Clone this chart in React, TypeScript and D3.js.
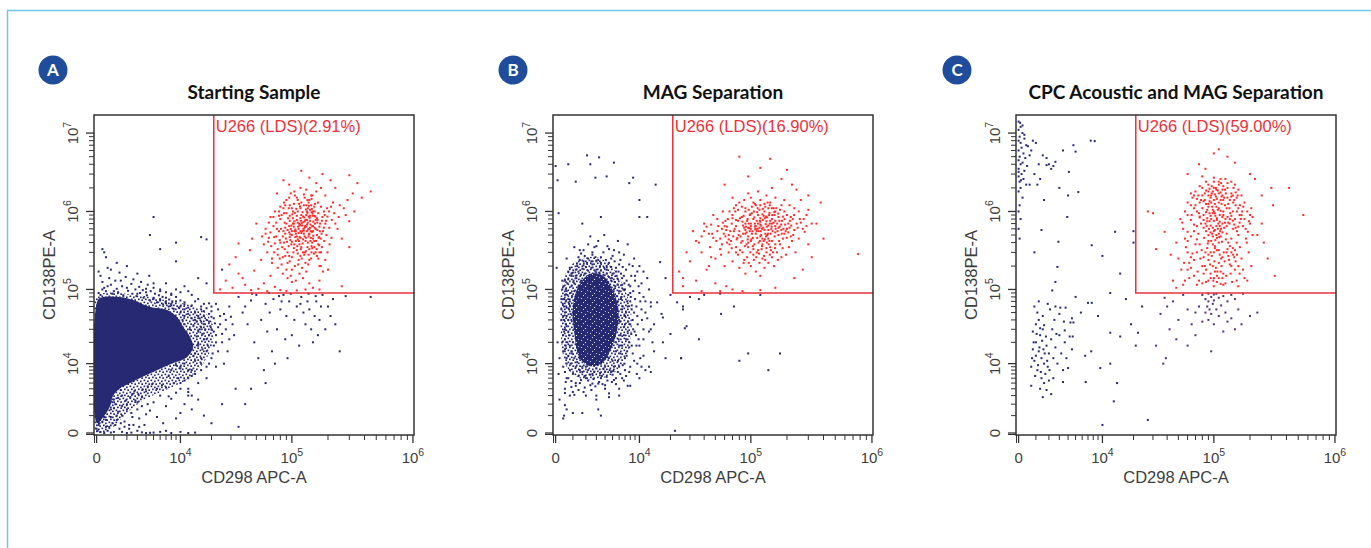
import * as d3 from "d3"

// flow cytometry: CD298 APC-A (x) vs CD138 PE-A (y); event values in thousands
const panelLetters = ["A", "B", "C"]
const panelTitles = ["Starting Sample", "MAG Separation", "CPC Acoustic and MAG Separation"]
const gatePercents = ["2.91%", "16.90%", "59.00%"]
const gateName = "U266 (LDS)"
const gateX = 21000
const gateY = 90000
const xMajorTicks = [0, 1e4, 1e5, 1e6]
const yMajorTicks = [0, 1e4, 1e5, 1e6, 1e7]
const xTitle = "CD298 APC-A"
const yTitle = "CD138PE-A"

// dense core of the population (outline of the saturated area)
const blobA = [[0.065,72.9],[0.33,79.7],[1.44,79.7],[2.56,72.9],[4.5,59],[7.2,54],[9.2,43.7],[10.7,32.2],[12.5,23.6],[13.4,17.2],[11.7,12.5],[8.4,10.2],[5.5,8.0],[3.6,6.3],[2.3,5.0],[1.4,4.0],[0.95,3.0],[0.75,1.8],[0.35,0.9],[0.02,0.5]]
const blobB = [[1.36,107],[2.37,160],[3.75,150],[5.2,90],[5.9,54],[5.6,27],[4.7,15.6],[3.75,10.5],[2.37,9.2],[1.45,12.5],[1.1,26.7],[1.0,59]]
// outlines of the less dense shell around each core
const haloA = [[0,80],[3,84],[8,70],[13,62],[18,48],[21,30],[19,14],[13,6.5],[8,4.2],[4,2.6],[2,1.2],[1,0.3],[0.3,0],[0,0]]
const haloB = [[0.3,100],[0.8,200],[2,260],[3.5,250],[5,190],[6.5,120],[8,60],[8.2,25],[7,12],[5,7],[3,5.8],[1.5,6],[0.6,9],[0.25,30]]

const redA = [[24,100],[27,130],[31,105],[35,160],[29,210],[40,115],[45,98],[38,140],[52,102],[48,175],[58,120],[62,95],[55,240],[44,320],[66,150],[35,390],[72,108],[50,700],[46,450],[60,520],[33,260],[80,98],[90,96],[110,97],[130,100],[150,105],[170,100],[260,110],[300,2900],[450,1800],[350,2300],[250,1200],[280,900],[240,600],[300,350],[230,2000],[210,2500],[180,3000],[140,2700],[120,3300],[95,2200],[75,1700],[85,2500],[160,2300],[190,1600],[220,1300],[260,450],[200,180],[170,130],[140,120],
  [88,620],[95,540],[102,700],[110,480],[118,820],[125,600],[132,900],[140,520],[105,380],[97,430],[112,1000],[120,350],[128,750],[136,1100],[92,300],[100,260],[108,560],[116,660],[124,440],[131,310],[84,480],[78,560],[72,390],[68,250],[76,330],[82,210],[90,180],[98,150],[106,200],[114,240],[122,190],[130,220],[138,280],[146,360],[154,420],[162,500],[170,640],[178,760],[150,880],[145,1200],[135,1400],[115,1250],[100,1100],[90,950],[80,800],[70,650],[64,460],[86,1300],[110,1500],[126,1650],[150,650],[158,780],[166,950],[142,620],[134,560],[118,560],[104,640],[96,760],[112,720],[120,900],[128,480],[136,400],[144,460],[100,500],[108,420],[116,380],[124,300],[112,290],[104,340],[96,230],[88,270],[80,400],[74,480],[86,400],[94,360],[102,820],[110,880],[118,460],[126,520],[134,680],[142,760],[150,560],[158,600],[166,380],[174,450],[182,560],[190,700],[198,860],[185,1000],[175,1150],[165,1300],[155,1000],[148,340],[140,240],[132,170],[124,140],[116,160],[108,130],[100,125],[92,140],[84,160],[76,190],[68,220],[62,300],[58,380],[66,540],[74,720],[82,900],[90,700],[98,600],[106,960],[114,600],[122,660],[130,780],[138,860],[146,980],[154,1150],[162,820],[170,300],[178,350],[186,420],[194,500],[205,620],[215,780],[225,950],[95,1500],[105,1800],[118,2000],[132,1900],[145,1600],[160,1800],[175,2000],[85,1100],[78,1000],[70,850],[64,720],[60,600],[56,480],[112,440],[120,530],[128,620],[136,720],[144,560],[104,700],[96,880],[118,1100],[126,1200],[134,1000],[142,1050],[150,450],[158,300],[166,250],[174,200],[182,170],[190,240],[198,300],[206,380],[214,460],[230,700],[245,850],[270,1100],[290,1400],[320,1700],[380,1500],[330,1000],[300,750],[110,320],[118,270],[96,470],[88,520],[100,410],[140,330],[148,400],
  [92,580],[99,660],[107,590],[114,530],[121,710],[129,650],[137,590],[143,680],[151,740],[89,450],[97,510],[105,560],[113,640],[119,760],[127,840],[135,960],[141,830],[149,940],[157,860],[163,720],[171,560],[81,600],[87,720],[93,820],[101,920],[109,1080],[117,1160],[123,980],[131,1060],[139,1180],[147,1080],[155,880],[83,350],[91,410],[99,380],[107,470],[115,420],[123,390],[131,460],[139,510],[147,550],[155,620],[163,580],[169,470],[177,520],[185,620],[193,760],[115,700],[125,730],[105,750],[95,650],[85,560],[75,600],[71,470],[79,430],[103,300],[111,360],[119,330],[127,280],[135,350],[143,420],[151,490],[159,420],[167,460],[175,300],[95,270],[87,330],[79,250],[71,300],[67,360],[63,410],[113,210],[121,250],[129,300],[137,210],[145,250],[153,290],[161,330],[169,370],[110,780],[118,680],[126,570],[134,780],[142,880],[150,1000],[102,1000],[94,1100],[86,950],[78,880],[120,1300],[128,1500],[138,1300],[146,1450],[156,1250],[112,1400],[104,1250],[96,1200],[88,1200],[80,1150],[72,1000],[66,850],[122,560],[116,470],[108,520],[100,560],[132,640],[140,600],[148,650],[156,700],[164,780],[172,700],[180,850],[188,900],[196,1100],[204,1000],[212,1150],[130,420],[138,480],[146,300],[154,350],[162,270],[170,200],[92,220],[100,180],[84,260],[76,280],[124,860],[132,1200],[140,1400],[148,1600],[90,1400],[98,1700],[106,1600]]

const blueA = [[14,40],[15,28],[16,55],[13,62],[17,35],[18,22],[19,48],[20,30],[15,18],[16,12],[13,8],[12,6],[11,45],[12,58],[14,70],[17,65],[21,42],[22,25],[23,55],[18,15],[19,10],[14,14],[10,60],[11,68],[9,70],[15,75],[20,60],[24,35],[25,20],[26,48],[21,18],[16,8],[12,4],[10,5],[13,3],[15,5],[18,6],[22,9],[8,65],[7,70],[6,75],[5,78],[11,22],[12,15],[10,9],[17,45],[19,38],[16,32],[20,52],[22,65],[27,30],[30,44],[29,60],[32,25],[28,15],
  [35,80],[40,60],[45,72],[50,85],[55,40],[60,65],[65,50],[70,75],[75,30],[80,55],[85,85],[90,45],[95,70],[100,25],[110,60],[120,80],[130,35],[140,55],[150,20],[160,70],[170,40],[180,85],[200,60],[220,75],[250,15],[280,82],[450,80],[42,35],[48,20],[52,12],[58,8],[38,50],[62,28],[68,15],[72,10],[78,82],[88,22],[92,12],[105,40],[115,18],[125,50],[135,70],[145,30],[155,45],[165,25],[175,60],[190,30],[210,45],[230,35],[46,88],[64,90],[82,70],[98,88],[118,65],[138,88],[158,82],[33,4],[45,4],[60,5],[25,2],[40,2],
  [0.2,3.5],[0.5,3],[1,2.5],[1.5,3.8],[2,2],[2.5,3.2],[3,1.5],[3.5,2.8],[4,3.6],[5,2.2],[6,3],[7,1.8],[8,2.6],[9,3.4],[10,1.2],[0.3,2],[0.8,1.5],[1.2,1],[1.8,0.6],[0.5,0.3],[0.1,0.8],[2.2,0.4],[0.6,0.1],[1,0.05],[1.4,0.2],[2,0],[3,0.1],[4,0],[5,0.02],[6,0.05],[7,0.1],[8,0],[10,0.05],[12,0],[14,0.02],[0.3,1.2],[0.9,2.2],[1.6,1.8],[2.8,2.4],[3.2,0.8],[4.5,1.4],[5.5,0.9],[6.5,0.5],[7.5,2.9],[9,0.8],[11,2],[12,3],[13,1.5],[15,2.5],[17,1],[20,0.5],[35,0.3],[0.05,0.1],[0.15,0.5],[0.4,0.9],[1.1,0.4],[2.4,1.2],[3.8,0.4],[4.2,2],[0.2,4.5],[0.7,4],[1.3,4.6],
  [0.1,90],[0.3,100],[0.6,110],[1,95],[1.5,130],[0.2,150],[0.8,180],[2,200],[3,88],[4,92],[5,105],[6,95],[7,120],[8,88],[9,100],[10,92],[11,110],[0.5,260],[1.2,220],[0.4,300],[12,95],[13,85],[15,140],[18,120],[6,330],[9,400],[25,180],[18,440],[5,850],[4.5,500],[9,230],[16,470],[0.3,330],
  [0.2,85],[0.5,95],[0.9,88],[1.3,92],[1.7,84],[2.1,96],[2.5,88],[2.9,82],[3.3,90],[3.7,78],[4.1,84],[4.5,72],[5,76],[5.5,68],[6,72],[6.5,64],[7,66],[7.5,60],[8,62],[8.5,56],[0.4,105],[0.8,115],[1.2,102],[1.6,110],[2,105],[2.4,118],[2.8,100],[3.2,108],[3.6,98],[4,102],[4.6,95],[5.2,88],[5.8,84],[6.4,80],[7,78],[7.6,74],[8.2,70],[0.3,125],[0.7,140],[1.1,130],[1.9,145],[2.6,135],[3.4,125],[4.2,115],[5,120],[6,100],[7,92],[8,85],[9,80],[0.1,170],[0.6,190],[1.4,165],[3,160],[4.4,150],[10,72],[11,64],[9.6,58],
  [10,50],[10.5,40],[11,35],[11.5,28],[12,24],[12.5,20],[13,16],[13.5,13],[14,11],[14.5,24],[15,19],[15.5,30],[16,38],[16.5,26],[17,22],[17.5,30],[18,40],[18.5,18],[19,25],[19.5,33],[20,44],[20.5,14],[21,28],[21.5,36],[22,20],[23,32],[24,45],[11,55],[12,48],[13,42],[14,50],[15,45],[16,60],[17,52],[18,57],[19,66],[12.5,30],[13.5,34],[14.5,38],[15.5,42],[16.5,16],[11,10],[10,8.5],[9,9.5],[8,8],[12,8],[13,6.5],[11,5.5],[9.5,6],[7.5,6.5],[8.5,5],[10,4],[12,3.5],[14,7],[16,10],[18,9],[20,12],[23,15],[25,26],[27,40],[29,22],[31,35],[26,10],
  [0.1,3],[0.3,2.6],[0.5,2.2],[0.7,2.8],[0.9,3.2],[1.1,2],[1.3,2.7],[1.6,3],[1.9,2.4],[2.3,2.8],[2.7,3.6],[3.1,3.2],[3.6,3.9],[4.2,4.4],[4.8,4.8],[5.5,4],[6.3,4.6],[7,4.2],[0.2,1.5],[0.4,1.2],[0.6,1.8],[0.8,0.9],[1,1.6],[1.3,1.3],[1.6,1],[2,1.5],[2.5,0.9],[3,2.2],[3.5,1.8],[4,1.1],[0.1,0.4],[0.3,0.6],[0.5,0.7],[0.7,0.3],[0.9,0.5],[1.2,0.7],[1.5,0.5],[1.8,0.3],[2.2,0.2],[2.6,0.4],[3.2,0.3],[0.2,0.05],[0.4,0],[0.8,0.02],[1.6,0.05],[2.4,0.02],[3.5,0.03],[4.5,0.01],[0.05,2],[0.05,1],[0.05,3.5],[0,0.2],[0,1.5],[0,2.8],[0,4]]

const redB = [[24,170],[26,110],[30,230],[34,130],[28,300],[38,95],[42,180],[46,260],[50,120],[36,400],[44,520],[32,560],[55,95],[62,110],[40,700],[48,900],[58,1000],[26,140],[70,100],[85,95],[120,98],[160,105],[230,140],[270,180],[320,260],[770,285],[400,450],[350,700],[300,1050],[260,1400],[380,1300],[80,5000],[145,4700],[120,3600],[200,3400],[95,2800],[60,2200],[180,2600],[240,1900],[300,1600],[150,2000],[70,1500],[220,2200],
  [100,600],[90,700],[110,520],[80,560],[120,680],[95,480],[105,800],[85,420],[115,900],[75,650],[125,450],[135,750],[65,500],[140,580],[130,1000],[110,1200],[90,1100],[70,900],[60,650],[55,450],[150,420],[160,650],[170,850],[155,1100],[145,1300],[100,1500],[80,1300],[120,1400],[95,350],[85,300],[105,280],[115,320],[125,250],[135,300],[145,350],[75,350],[65,300],[55,330],[50,250],[45,350],[60,200],[70,230],[80,190],[90,160],[100,200],[110,170],[120,150],[130,190],[140,220],[150,260],[165,300],[175,380],[185,450],[195,560],[205,700],[215,850],[190,1000],[180,1200],[170,500],[160,380],[100,420],[92,540],[108,640],[116,560],[124,600],[132,520],[88,620],[96,700],[104,460],[112,760],[120,820],[128,880],[136,640],[144,700],[152,560],[98,900],[106,1000],[114,600],[122,500],[82,480],[78,760],[72,560],[68,420],[62,580],[58,720],[52,560],[48,460],[64,800],[74,1000],[84,850],[94,800],[102,950],[118,1050],[126,780],[134,860],[142,900],[150,800],[158,900],[166,700],[174,640],[182,760],[200,900],[210,620],[225,500],[240,700],[255,800],[270,600],[230,1100],[250,1000],[92,380],[104,360],[116,400],[128,420],[140,450],[86,520],[98,560],[110,600],[122,660],[134,480],[146,520],[158,480],[76,440],[66,380],[56,280],[44,200],[38,300],[34,420],[40,560],[46,680],[52,800],[112,300],[124,360],[136,400],[148,600],[160,540],[172,420],[184,340],[196,280],[208,350],[220,420],[235,300],[250,450],[280,550],[300,380],[320,700],[290,900],[88,240],[96,220],[78,280],[106,240],[118,220],[132,240],[144,280],[156,200],[168,240],[180,260],[105,1300],[88,1400],[75,1200],[130,1250],[140,1100],[160,1000],[95,1700],[115,1800],[135,1600],[160,1500],[190,1400],[210,1200],[100,650],[95,620],[108,700],[112,560],[102,520],[118,620],[90,580],[86,660],[94,440],[120,740],
  [97,610],[103,560],[91,640],[109,590],[115,700],[85,740],[121,560],[79,500],[127,620],[73,600],[133,690],[67,560],[139,520],[61,480],[145,760],[93,760],[107,840],[99,920],[113,980],[87,880],[119,760],[81,820],[125,920],[75,780],[131,820],[69,700],[137,840],[63,640],[143,960],[57,600],[101,440],[95,400],[107,380],[89,360],[113,460],[83,400],[119,420],[77,460],[125,380],[71,480],[131,440],[65,440],[137,500],[59,520],[143,420],[149,640],[155,720],[161,600],[167,560],[173,760],[179,680],[185,860],[191,800],[151,900],[157,980],[163,1100],[169,940],[175,1050],[181,520],[187,600],[193,680],[199,460],[205,540],[211,760],[217,660],[223,800],[229,900],[90,1000],[96,1050],[102,1150],[108,1250],[114,1100],[120,1200],[84,1150],[78,1050],[72,1100],[66,1000],[126,1080],[132,1150],[138,1300],[144,1200],[150,1100],[105,330],[111,260],[117,290],[123,330],[129,270],[135,340],[141,380],[147,320],[153,300],[159,340],[99,300],[93,260],[87,220],[81,320],[75,300],[69,340],[63,400],[57,380],[51,420],[47,520],[42,640],[38,480],[53,650],[61,760],[70,820],[110,650],[100,700],[90,520],[120,480],[130,580],[140,660],[150,700],[160,760],[170,620],[180,580],[190,520],[200,600],[215,480],[230,580],[245,620],[260,720],[275,800],[290,650]]

const blueB = [[1,50],[1.1,30],[1.2,70],[1.3,90],[1,20],[5,30],[5.2,50],[5.5,20],[5,65],[4.5,90],[3.5,100],[2.5,105],[1.8,100],[1.5,12],[2.5,10],[3.5,10],[4.5,12],[5.5,15],[0.9,40],[0.8,60],[6,40],[6.2,25],[5.8,70],[4,110],[3,120],[2,120],[1.4,110],[0.7,28],[0.9,15],[2,9],[3,8.5],[4,9],[5,11],[6,18],[6.5,55],[6.8,32],[0.6,45],[0.7,75],[1.6,130],[2.4,140],[3.2,135],[4.4,125],[5.2,100],[7,45],[7.2,22],[6.4,80],[1.2,9],[1.7,7.5],[2.6,7],[3.6,6.5],[4.8,7.5],[6,9],[7,12],[0.5,22],[0.55,35],[0.6,58],[0.65,85],[1.1,120],[1.9,160],[2.9,170],[3.8,155],[4.9,140],[5.8,115],[7.5,60],[8,35],[7.8,20],[7,8],[5.5,6],[1.5,5],[2.2,5.5],[3.3,5.2],[4.3,5.5],
  [0.4,15],[0.45,60],[0.35,100],[0.5,130],[0.9,160],[1.3,200],[2.1,220],[3,230],[4.2,200],[5.5,170],[6.5,140],[8,110],[9,75],[9.5,45],[9.2,25],[8.5,14],[8,9],[6.5,6],[4,4],[2.5,3.8],[1.2,4.5],[0.6,6],[0.4,9],[1.4,260],[2.6,300],[3.5,260],[4.8,250],[6,210],[7.2,180],[10,90],[10.5,55],[11,30],[10,18],[9.5,10],[0.3,40],[0.3,75],[0.8,190],[1.8,320],[2.2,380],[3.2,420],[2.8,350],[5.2,320],[6.8,280],[8.5,200],[9,150],[11.5,70],[12,42],[11,13],[4.5,3.3],[3,3],[1.8,3.5],[0.8,3],[12.5,100],[13,60],[14,35],[13.5,20],[12.5,9],[1.1,350],[0.6,250],[2.4,480],[7.5,380],[5.8,420],[3.9,500],[4.3,360],
  [2.1,5200],[0.7,4000],[2.4,4000],[3.3,4900],[4.2,2800],[5.2,4200],[0.1,2500],[1.2,2400],[2.9,2700],[7.8,2300],[8.6,2700],[10,1400],[14.5,2200],[0,3800],[0.15,950],[10,850],[12,850],[1.7,700],[3.5,850],
  [16,225],[18,140],[13,68],[15,68],[16.5,48],[17,20],[20,26],[23,68],[25,12],[26,60],[28,33],[36,22],[14,15],[13,7.5],[22,0.1],[26,55],[27,31],[36,75],[56,48],[72,60],[95,14],[80,11],[18,12],[25,12],[13,30],[17,43],[8,90],[9,130],[11,170],[20,85],[30,80],[40,85],[10,6],[6,3],[8,4.5],[0.6,1.5],[0.4,0.8],[1,1.2],[0.2,2.5],[3.2,1.5],[0.1,20],[0.2,12],[0.15,7],[55,88],[120,85],[175,14],[140,8],
  [0.5,3.35],[1.1,3.1],[0.5,1.9],[0.45,1],[1.7,1.2],[3.5,1],[0.05,190],
  [0.7,40],[0.75,55],[0.8,70],[0.85,90],[0.9,110],[0.75,25],[0.8,18],[0.95,14],[1.05,130],[1.2,150],[1.4,170],[1.7,185],[2,195],[2.5,190],[3,180],[3.5,175],[4.2,160],[4.8,130],[5.4,110],[6,95],[6.3,75],[6.6,60],[6.9,45],[7,35],[6.8,25],[6.5,18],[6.2,14],[5.8,11],[5.2,9],[4.6,8],[4,7.5],[3.4,7.2],[2.8,7.6],[2.2,8],[1.7,9],[1.3,10.5],[1.1,12],
  [0.5,50],[0.55,70],[0.6,95],[0.65,120],[0.5,30],[0.55,18],[0.6,12],[0.8,8],[1,7],[1.4,6.5],[2,6],[2.7,5.8],[3.5,6],[4.2,6.3],[5,6.8],[5.8,7.5],[6.6,9.5],[7.3,13],[7.8,17],[8.2,26],[8.5,40],[8.3,55],[8,70],[7.6,85],[7,100],[6.5,115],[5.8,135],[5,160],[4.2,180],[3.4,200],[2.6,210],[1.8,205],[1.2,180],[0.9,150],
  [0.45,75],[0.4,45],[0.45,28],[1.5,240],[2.2,250],[3.2,240],[4.5,220],[5.5,190],[6.3,160],[7.3,130],[8.6,95],[9.3,60],[9.6,35],[9.3,18],[8.8,11],[7.8,7.5],[6.8,5.5],[5.5,4.8],[4,4.6],[2.9,4.4],[1.9,4.2],[1.2,5],[0.7,6],[0.5,7.5],
  [2.6,280],[3.8,300],[1.9,270],[5,270],[6.2,240],[7.8,210],[9.5,170],[10.5,120],[11,80],[11.5,50],[11,22],[10.2,12],[9.4,7],[1.5,320],[3,360],[4.5,330],[6,300],[8.8,250],[10,200],[12,140],[12.5,28],[11.5,8],[0.35,130],[0.3,55],[0.35,20],[0.5,4],[1,3.5],[2,3],[3,2.5],[4.5,2.8],[6,4],[7.5,4.5],
  [2.5,230],[3.5,220],[4.8,195],[1.8,230],[1.3,215],[5.9,170],[6.8,150],[7.7,115],[8.1,80],[8.8,50],[7.5,28],[8.9,28],[6.2,7],[5.2,5.6],[3.2,4.9],[2.4,4.6],[1.6,5.6],[0.9,5.4],[0.6,10],[0.7,13],[0.5,16],[0.45,40],[0.55,100],[0.7,135],[1,165],
  [1.25,140],[2.8,125],[4.6,105],[5.6,82],[6.1,38],[5.9,22],[4.3,12.5],[2.9,11],[1.6,14],[1.15,35],[1.3,75],[0.85,48],[0.95,82],[1.6,155],[3.3,165],[4.5,145],[5.3,125],[6.7,100],[7.4,70],[7.2,50],[7.6,38],[7.4,15],[6.9,10],[5.1,7.8],[3.8,8.3],[2.4,6.8],[1.9,6.5],[1.5,8],[0.85,10],[0.65,20],[0.6,33],[0.75,65],[0.5,85],[1.1,95],[2.2,175],[3.9,190],[5.6,150],[6.9,120],[8.3,62],[8.6,30],[8.3,18],[7.2,6.5],[4.9,5.2],[3.7,4.8],[2.6,4.9],[1.4,3.8],[0.9,4.3],[0.55,5.2],[0.4,25],[0.38,65],[0.42,110],[0.7,170],[1.6,290],[2.9,260],[4.1,240],[5.3,230],[6.6,195],[8.2,150],[9.8,110],[10.2,70],[10.6,40],[9.8,22],[10.5,9]]

const redC = [[45,130],[43,280],[48,105],[55,115],[30,950],[27,1000],[32,330],[38,550],[60,3000],[110,6200],[100,5500],[130,5000],[75,4000],[85,3500],[150,4200],[200,3000],[220,2600],[300,2000],[420,2000],[550,900],[310,1200],[250,1600],[280,250],[320,150],[260,400],[230,500],[250,700],
  [100,1000],[95,800],[105,650],[90,500],[110,400],[85,300],[115,250],[80,200],[120,160],[75,130],[125,120],[70,1200],[130,1500],[65,900],[135,700],[60,550],[140,450],[58,350],[145,280],[62,220],[150,180],[68,150],[155,130],[72,115],[160,110],[100,2000],[90,1800],[110,2200],[80,1600],[120,1400],[95,1300],[105,1150],[88,1050],[112,900],[92,750],[108,600],[98,480],[102,360],[96,270],[104,190],[94,140],[106,125],[82,900],[118,850],[78,700],[122,620],[74,520],[126,440],[70,380],[130,330],[66,290],[134,240],[64,190],[138,160],[62,140],[142,125],[86,2400],[114,2600],[76,2100],[124,1900],[84,1400],[116,1250],[87,650],[113,560],[83,460],[117,410],[79,320],[121,300],[77,250],[123,230],[73,170],[127,150],[100,140],[100,300],[100,560],[100,760],[100,1400],[110,1700],[90,1250],[120,1000],[80,1100],[95,420],[105,500],[115,600],[85,700],[125,800],[75,950],[135,1100],[145,1300],[155,1500],[165,1200],[170,900],[175,650],[160,500],[165,350],[170,250],[175,180],[180,140],[150,800],[145,600],[155,400],[150,320],[140,200],[55,600],[52,800],[57,450],[60,300],[50,250],[53,180],[57,130],[48,400],[190,1000],[200,700],[185,450],[195,300],[205,200],[190,130],[210,500],[92,950],[108,1050],[97,1150],[103,880],[88,340],[112,280],[93,210],[107,170],[99,130],[101,230],[91,600],[109,700],[97,520],[103,430],[89,390],[111,470],[96,1700],[104,1550],[86,1850],[114,1400],[130,2000],[70,1800],[140,1700],[66,1500],[128,520],[132,400],[136,360],[72,440],[68,680],[64,780],[76,840],[124,1200],[118,1600],[84,200],[82,160],[116,200],[118,140],[100,110],[120,115],[80,120],[110,320],[90,280],[95,1600],[105,1900],[115,2300],[125,2600],[100,2700],[80,2800],[150,2200],[160,1900],[170,1600],[180,1300],[140,2400],[60,1300],[57,1000],[54,720],[106,780],[94,660],[112,740],[88,820],[120,900],[98,950],[102,1250],[92,1350],[130,850],[137,950],[144,1000],
  [98,1050],[102,950],[94,880],[106,820],[90,1150],[110,1100],[86,980],[114,1020],[82,780],[118,700],[98,620],[102,580],[94,540],[106,460],[90,420],[110,520],[86,560],[114,480],[82,620],[118,540],[98,380],[102,340],[94,300],[106,320],[90,240],[110,220],[86,180],[114,170],[82,260],[118,260],[98,200],[102,170],[94,160],[106,150],[90,130],[110,140],[86,125],[114,118],[98,1800],[102,1650],[94,1500],[106,1450],[90,1600],[110,1300],[86,1250],[114,1750],[82,1350],[118,1900],[128,650],[132,720],[136,800],[140,880],[144,760],[148,680],[152,620],[156,560],[160,640],[164,720],[128,300],[132,270],[136,210],[140,300],[144,340],[148,260],[152,230],[156,280],[160,200],[164,160],[72,650],[68,560],[64,480],[60,420],[76,380],[72,300],[68,240],[64,260],[60,180],[56,220],[72,1000],[68,1100],[64,1200],[60,900],[76,1300],[72,1450],[68,1600],[64,1700],[128,1100],[132,1250],[136,1400],[140,1550],[144,1600],[148,1400],[152,1200],[156,1000],[160,1100],[164,900],[168,800],[172,1000],[176,1150],[180,800],[184,600],[188,400],[192,550],[196,750],[200,900],[205,1100],[210,850],[120,2100],[110,2400],[90,2200],[100,2400],[130,2300],[80,2000],[74,1600],[126,1700],[122,1500],[78,1400],[88,750],[112,650],[124,720],[76,860],[84,1700],[116,1550],[96,2100],[104,2000],[108,1850],[92,1950],[146,2000],[152,1750],[158,1600]]

const purpleC = [[80,85],[85,75],[90,70],[95,80],[100,72],[88,60],[92,55],[98,65],[105,88],[110,78],[75,60],[70,50],[115,62],[120,82],[130,70],[140,85],[150,75],[160,55],[175,88],[200,45],[110,45],[100,35],[90,40],[80,38],[60,55],[55,85],[50,40],[45,70],[42,30],[38,78],[35,48],[130,38],[150,30],[120,28],[85,50],[95,48],[65,35],[70,25],[105,55],[125,50],[140,42],[170,35],[230,50],[48,22],[60,18],[95,15],[40,60],[90,88],[100,86],[32,18],[37,10],[39,12]]

const blueC = [[0,14000],[0.1,12000],[0,11000],[0.2,10000],[0.05,9000],[0.3,8500],[0,8000],[0.1,7500],[0.4,7000],[0.15,6500],[0,6000],[0.25,5500],[0.05,5000],[0.35,4800],[0,4500],[0.2,4200],[0.1,4000],[0.45,3800],[0,3500],[0.3,3300],[0.15,3000],[0,2800],[0.25,2600],[0.05,2400],[0.4,2200],[0.1,2000],[0,1800],[0.2,1500],[0.05,1200],[0,1000],[0.1,800],[0,600],[0.05,450],[0.3,9500],[0.5,6800],[0.6,5200],[0.2,12500],[0.08,13500],[0,3200],[0.12,2500],
  [0.8,8000],[1,7500],[0.7,6000],[1.2,4000],[0.9,3000],[1.5,5200],[1.8,4800],[2,4000],[2.4,3800],[2.2,3500],[1.3,2600],[0.6,2200],[1.1,2200],[2.6,4300],[5,5800],[7.5,8000],[1.6,1400],[4.7,7000],[3,2000],
  [1,20],[1.2,15],[1.4,12],[1.6,10],[1.8,18],[2,14],[0.9,11],[1.1,8],[1.3,25],[1.5,30],[1.7,7],[1.9,9],[2.2,22],[2.4,12],[0.8,16],[1,35],[1.2,40],[1.4,6],[1.6,5],[0.7,9],[2.6,17],[2.8,10],[3,25],[0.8,28],[1.1,50],[0.9,60],[1.5,45],[2.1,55],[2.5,40],[0.7,4.5],[1.3,4],[1.8,3.8],[1.0,13],[1.25,17],[1.45,21],[1.65,14],[1.85,11],[2.05,8],[1.15,9.5],[1.35,7.5],[0.95,6.5],[1.55,16],[1.75,24],[2.3,30],[2.7,26],[3.2,14],[3.4,8],[3.6,20],[0.85,20],[1.05,26],[1.6,34],[2.0,5.5],[2.4,6],[1.3,31],[0.75,12],[3.8,12],[4.2,24],[4.5,16],[1.9,65],[2.6,60],[1.2,70],[3,48],[3.5,38],[1.5,2.8],[2.2,3.2],
  [3.4,6000],[8.3,7900],[1.8,3900],[4.1,3200],[5.4,1770],[4,1600],[3.9,850],[1.4,580],[2.9,410],[0.9,300],[7.7,370],[10,270],[13.4,550],[20,560],[20,400],[15,160],[12,90],[12,27],[15,24],[21,18],[22,27],[12,10],[14,5],[13,2.3],[10,0.4],[27,0.7],[9.5,8.6],[7.6,15],[6.5,13],[6.6,5.2],[4,8.6],[3.4,5.2],[7.7,67],[7,67],[5.8,50],[3.7,58],[4.5,42],[4.3,37],[3.1,58],[3.6,29],[4.7,37],[4.6,24],[2.6,125],[2.3,97],[2.8,195],[5,80],[9,45],[17,75],[24,60],[19,35]]

const W = 1371
const H = 548
const SIZE = 320
const boxLeft = [94, 553, 1016]
const badgeX = [53, 513, 957]
const TOP = 115

const BLUE = "#272a72"
const RED = "#ff2b2b"
const PURPLE = "#55307a"
const GATE = "#e8323a"
const AXIS = "#333"
const TEXT = "#3d3d3d"

const x = d3.scaleSymlog().constant(2600).domain([-130, 1.02e6]).range([0, SIZE])
const y = d3.scaleSymlog().constant(1500).domain([-90, 1.7e7]).range([SIZE, 0])

const minor = (max) =>
  [1e3, 1e4, 1e5, 1e6].flatMap((b) => d3.range(2, 10).map((k) => k * b)).filter((v) => v < max)
const xMinor = [1e3, ...minor(1e6)]
const yMinor = [1e3, ...minor(1.7e7)]

const blobLine = d3
  .line()
  .x((d) => x(d[0] * 1e3))
  .y((d) => y(d[1] * 1e3))
  .curve(d3.curveCatmullRomClosed)

const panels = [
  { blue: blueA, red: redA, purple: [], blob: blobA, halo: haloA, fill: BLUE },
  { blue: blueB, red: redB, purple: [], blob: blobB, halo: haloB, fill: "url(#speck)" },
  { blue: blueC, red: redC, purple: purpleC, blob: null, halo: null, fill: BLUE },
]

const Dots = ({ data, color, s = 2 }) => (
  <g fill={color}>
    {data.map((d, i) => (
      <rect key={i} x={x(d[0] * 1e3) - s / 2} y={y(d[1] * 1e3) - s / 2} width={s} height={s} />
    ))}
  </g>
)

const Label = ({ v, ...rest }) => {
  if (v === 0) return <text {...rest}>0</text>
  return (
    <text {...rest}>
      <tspan>10</tspan>
      <tspan dy={-7} fontSize={10.5}>
        {Math.round(Math.log10(v))}
      </tspan>
    </text>
  )
}

const Panel = ({ i }) => {
  const p = panels[i]
  const gx = x(gateX)
  const gy = y(gateY)
  return (
    <g transform={`translate(${boxLeft[i]},${TOP})`}>
      <clipPath id={`clip${i}`}>
        <rect width={SIZE} height={SIZE} />
      </clipPath>
      <g clipPath={`url(#clip${i})`}>
        {p.halo && <path d={blobLine(p.halo)} fill="url(#halo)" />}
        {p.blob && <path d={blobLine(p.blob)} fill={p.fill} />}
      </g>
      <Dots data={p.blue} color={BLUE} />
      <Dots data={p.purple} color={PURPLE} />
      <Dots data={p.red} color={RED} s={2} />
      <path d={`M${gx},0V${gy}H${SIZE}`} fill="none" stroke={GATE} strokeWidth={1.5} />
      <text x={gx + 2} y={17} fill={GATE} fontSize={16.5}>
        {`${gateName}(${gatePercents[i]})`}
      </text>
      <rect x={0} y={0} width={SIZE} height={SIZE} fill="none" stroke={AXIS} strokeWidth={1.5} />

      {/* x axis */}
      {xMinor.map((v) => (
        <line key={v} x1={x(v)} x2={x(v)} y1={SIZE} y2={SIZE + 5} stroke={AXIS} />
      ))}
      {xMajorTicks.map((v) => (
        <g key={v}>
          <line x1={x(v)} x2={x(v)} y1={SIZE} y2={SIZE + 8} stroke={AXIS} strokeWidth={1.3} />
          <Label v={v} x={x(v)} y={SIZE + 28} textAnchor="middle" fontSize={15} fill={TEXT} />
        </g>
      ))}
      <line x1={0.5} x2={0.5} y1={SIZE} y2={SIZE + 8} stroke={AXIS} />
      <text x={SIZE / 2} y={SIZE + 48} textAnchor="middle" fontSize={16.5} fill={TEXT}>
        {xTitle}
      </text>

      {/* y axis */}
      {yMinor.map((v) => (
        <line key={v} x1={-5} x2={0} y1={y(v)} y2={y(v)} stroke={AXIS} />
      ))}
      {yMajorTicks.map((v) => (
        <g key={v}>
          <line x1={-8} x2={0} y1={y(v)} y2={y(v)} stroke={AXIS} strokeWidth={1.3} />
          <Label
            v={v}
            transform={`translate(-16,${y(v)}) rotate(-90)`}
            textAnchor="middle"
            fontSize={15}
            fill={TEXT}
          />
        </g>
      ))}
      <line x1={-8} x2={0} y1={SIZE - 0.5} y2={SIZE - 0.5} stroke={AXIS} />
      <text transform={`translate(-39,${SIZE / 2}) rotate(-90)`} textAnchor="middle" fontSize={16.5} fill={TEXT}>
        {yTitle}
      </text>

      {/* title and badge */}
      <text
        x={SIZE / 2}
        y={-16}
        textAnchor="middle"
        fontFamily="Lato, 'Open Sans', sans-serif"
        fontWeight={700}
        fontSize={19}
        fill="#111"
      >
        {panelTitles[i]}
      </text>
      <circle cx={badgeX[i] - boxLeft[i]} cy={70 - TOP} r={14.5} fill="#1f4c9b" />
      <text
        x={badgeX[i] - boxLeft[i]}
        y={70 - TOP + 6}
        textAnchor="middle"
        fontFamily="Lato, 'Open Sans', sans-serif"
        fontWeight={700}
        fontSize={17}
        fill="#fff"
      >
        {panelLetters[i]}
      </text>
    </g>
  )
}

export default function App() {
  return (
    <svg
      width={W}
      height={H}
      style={{ position: "absolute", left: 0, top: 0, background: "#fff" }}
      fontFamily="'Liberation Sans', Arial, sans-serif"
    >
      <defs>
        {/* grainy fill for a dense but not saturated cloud */}
        <pattern id="speck" width={9} height={7} patternUnits="userSpaceOnUse">
          <rect width={9} height={7} fill={BLUE} />
          <rect x={1} y={1} width={1} height={1} fill="#d8d9e8" />
          <rect x={5} y={3} width={1} height={1} fill="#ffffff" />
          <rect x={7} y={0} width={1} height={1} fill="#b9bbd6" />
          <rect x={3} y={5} width={1} height={1} fill="#e4e5f0" />
        </pattern>
        <pattern id="halo" width={7} height={6} patternUnits="userSpaceOnUse">
          <rect x={0.5} y={0.5} width={1.7} height={1.7} fill={BLUE} />
          <rect x={4} y={1.5} width={1.7} height={1.7} fill={BLUE} />
          <rect x={2} y={3.5} width={1.7} height={1.7} fill={BLUE} />
          <rect x={5.3} y={4.3} width={1.7} height={1.7} fill={BLUE} />
        </pattern>
      </defs>
      <path d={`M7.5,${H}V10.5H${W}`} fill="none" stroke="#6ec6ea" strokeWidth={1.5} />
      {panels.map((_, i) => (
        <Panel key={i} i={i} />
      ))}
    </svg>
  )
}
